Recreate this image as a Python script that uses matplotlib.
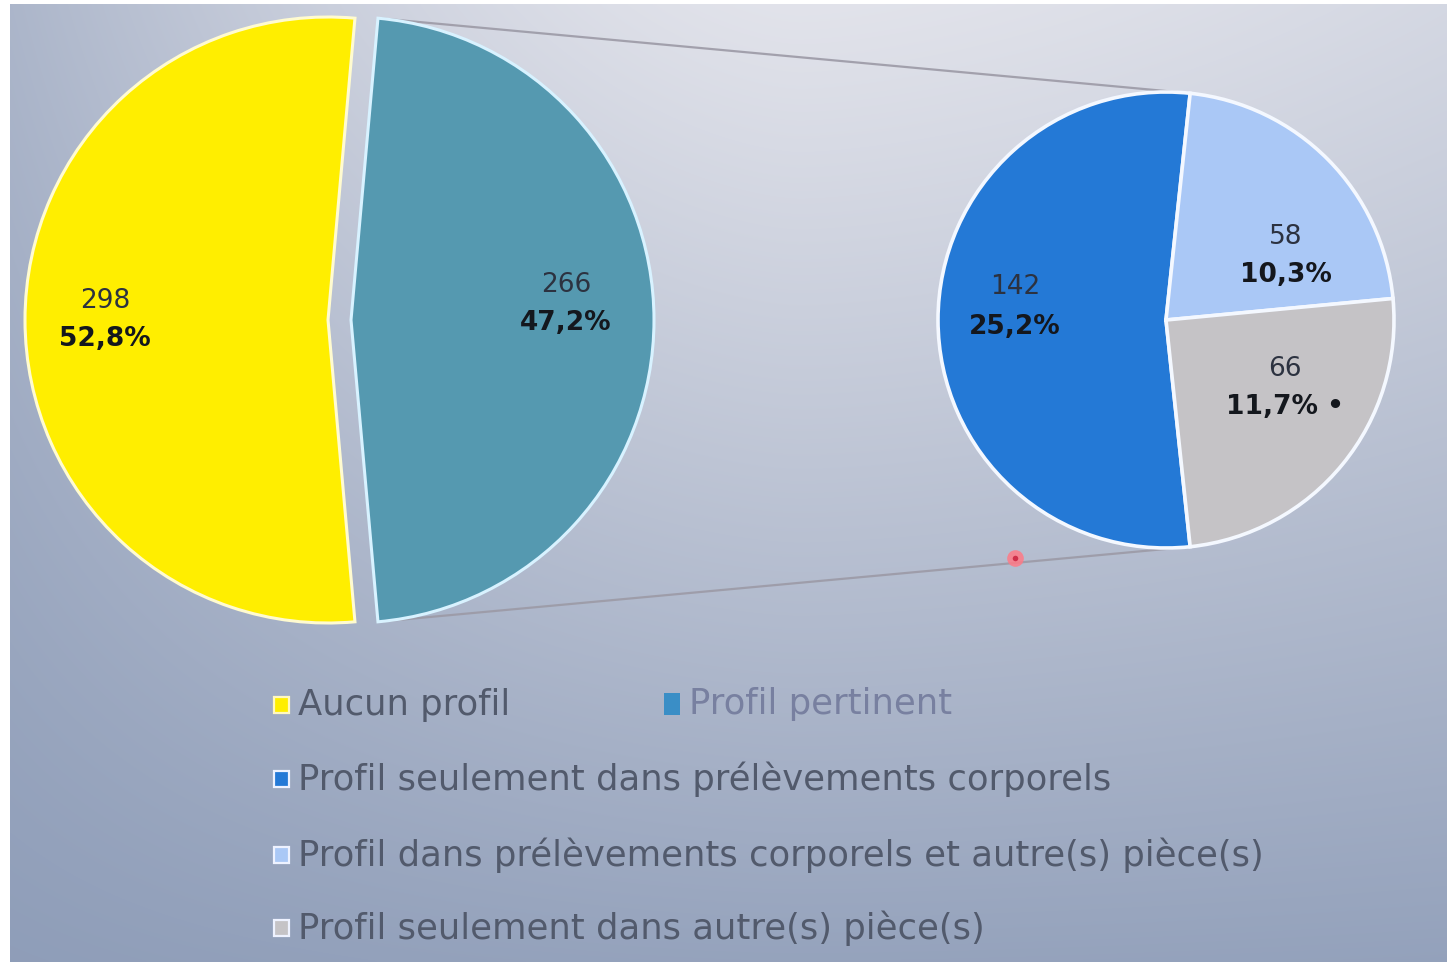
import numpy as np
import matplotlib
matplotlib.use("Agg")
import matplotlib.pyplot as plt
from matplotlib.patches import Rectangle

# ---- data ---------------------------------------------------------------
main_labels = ["Aucun profil", "Profil pertinent"]
main_counts = [298, 266]
main_colors = ["#ffee00", "#5599b0"]
main_edges = ["#fffbd0", "#d8f2ff"]

detail_labels = ["Profil seulement dans prélèvements corporels",
                 "Profil dans prélèvements corporels et autre(s) pièce(s)",
                 "Profil seulement dans autre(s) pièce(s)"]
detail_counts = [142, 58, 66]
detail_colors = ["#2479d6", "#aac8f6", "#c5c3c6"]
detail_notes = ["", "", " •"]

total = sum(main_counts)

# ---- canvas (1 data unit = 1 pixel, y pointing up) ----------------------
W, H = 1447, 965
fig = plt.figure(figsize=(W / 100, H / 100), dpi=100, facecolor="white")
ax = fig.add_axes([0, 0, 1, 1])
ax.set_axis_off()


def py(y_screen):
    """Convert a top-down pixel row to the axes' y coordinate."""
    return H - y_screen


# slide background: light at the top centre, bluish grey towards the bottom/left
bx0, bx1, by0, by1 = 10, W, 3, 961
gx = np.linspace(0, 1, 600)
gy = np.linspace(0, 1, 400)[:, None]
fx = np.where(gx < 0.55, 0.62 * ((0.55 - gx) / 0.55) ** 1.6, 0.16 * ((gx - 0.55) / 0.45) ** 1.5)
fy = 0.88 * gy ** 1.05
t = 1 - (1 - fx[None, :]) * (1 - fy)
light = np.array([0.885, 0.890, 0.920])
dark = np.array([0.545, 0.605, 0.715])
bg = light[None, None, :] * (1 - t[..., None]) + dark[None, None, :] * t[..., None]
ax.imshow(bg, extent=(bx0, bx1, by0, by1), origin="upper", aspect="auto",
          interpolation="bilinear", zorder=0)

# ---- main pie -----------------------------------------------------------
main_center = (328, py(320))
main_r = 303
main_explode_px = 23          # pie() offsets exploded wedges in data units
yellow_frac = main_counts[0] / total
main_start = 180 + yellow_frac * 360 / 2

main_wedges, _ = ax.pie(main_counts, colors=main_colors, center=main_center,
                        radius=main_r, startangle=main_start, counterclock=False,
                        explode=[0, main_explode_px],
                        wedgeprops=dict(linewidth=2.2), frame=True)
for w, ec in zip(main_wedges, main_edges):
    w.set_edgecolor(ec)
    w.set_zorder(2)

# ---- detail pie (breakdown of "Profil pertinent") ------------------------
det_center = (1166, py(320))
det_r = 228
det_total = sum(detail_counts)
det_start = 180 + detail_counts[0] / det_total * 360 / 2

det_wedges, _ = ax.pie(detail_counts, colors=detail_colors, center=det_center,
                       radius=det_r, startangle=det_start, counterclock=False,
                       wedgeprops=dict(linewidth=2.6, edgecolor="#f4f8ff"),
                       frame=True)
for w in det_wedges:
    w.set_zorder(2)

# ---- connector lines between the exploded slice and the detail pie -------
teal = main_wedges[1]
tcx, tcy = teal.center
teal_angles = sorted(np.deg2rad([teal.theta1, teal.theta2]), key=np.sin)
dark_w = det_wedges[0]
dark_angles = sorted(np.deg2rad([dark_w.theta1, dark_w.theta2]), key=np.sin)
for ta, da in zip(teal_angles, dark_angles):
    p0 = (tcx + main_r * np.cos(ta), tcy + main_r * np.sin(ta))
    p1 = (det_center[0] + det_r * np.cos(da), det_center[1] + det_r * np.sin(da))
    ax.plot([p0[0], p1[0]], [p0[1], p1[1]], color="#9c9aa6", lw=1.6,
            alpha=0.9, zorder=1, solid_capstyle="round")

# pointer dot sitting on the lower connector
ax.plot([1015], [py(558)], "o", ms=12, color="#ff7a86", alpha=0.85, zorder=3,
        markeredgewidth=0)
ax.plot([1015], [py(558)], "o", ms=4, color="#d0304a", zorder=4,
        markeredgewidth=0)

# ---- value labels ---------------------------------------------------------
def pct(v):
    return f"{v / total * 100:.1f}".replace(".", ",") + "%"


num_color = "#2c3240"
pct_color = "#14171d"
label_fs = 19
line_gap = 39

main_label_pos = [(-223, 0), (238, 16)]
for v, (dx, dy) in zip(main_counts, main_label_pos):
    x, y = main_center[0] + dx, main_center[1] + dy
    ax.text(x, y + line_gap / 2, f"{v}", ha="center", va="center",
            fontsize=label_fs, color=num_color, zorder=5)
    ax.text(x, y - line_gap / 2, pct(v), ha="center", va="center",
            fontsize=label_fs, fontweight="bold", color=pct_color, zorder=5)

det_label_pos = [(-151, 13), (120, 64), (119, -68)]
for v, note, (dx, dy) in zip(detail_counts, detail_notes, det_label_pos):
    x, y = det_center[0] + dx, det_center[1] + dy
    ax.text(x, y + line_gap / 2, f"{v}", ha="center", va="center",
            fontsize=label_fs, color=num_color, zorder=5)
    ax.text(x, y - line_gap / 2, pct(v) + note, ha="center", va="center",
            fontsize=label_fs, fontweight="bold", color=pct_color, zorder=5)

# ---- legend ---------------------------------------------------------------
leg_fs = 25.5
leg_text = "#525a6c"


def legend_entry(x, y_screen, color, text, tcolor=leg_text, w=15, h=16, ec="#eef2ff"):
    yc = py(y_screen)
    ax.add_patch(Rectangle((x, yc - h / 2), w, h, facecolor=color,
                           edgecolor=ec, linewidth=1.6, zorder=5))
    ax.text(x + w + 9, yc, text, ha="left", va="center", fontsize=leg_fs,
            color=tcolor, zorder=5)


legend_entry(274, 705, main_colors[0], main_labels[0], ec="#fff8c0")
legend_entry(664, 704, "#3a8ec6", main_labels[1], tcolor="#7880a0",
             w=16, h=22, ec="none")
for ys, c, lab in zip((779, 855, 928), detail_colors, detail_labels):
    legend_entry(274, ys, c, lab)

ax.set_xlim(0, W)
ax.set_ylim(0, H)
ax.set_aspect("auto")

fig.savefig("out.png", dpi=100, facecolor="white")
